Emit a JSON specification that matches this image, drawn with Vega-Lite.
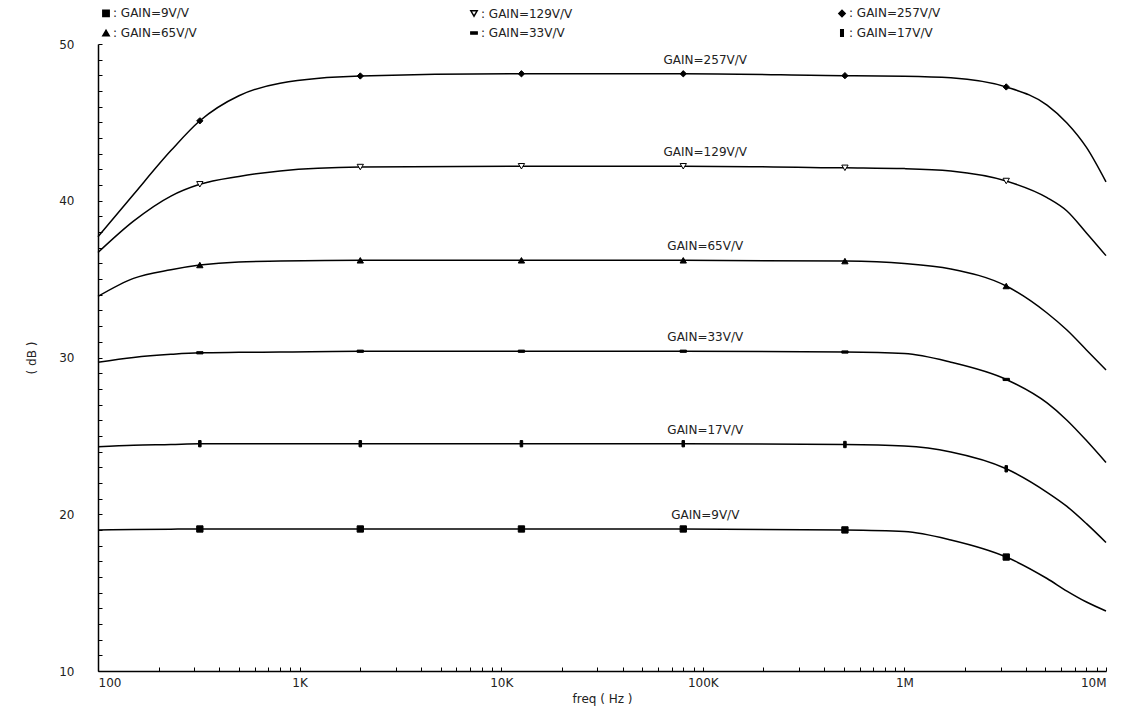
{
  "$schema": "https://vega.github.io/schema/vega-lite/v6.json",
  "width": 1008,
  "height": 627,
  "autosize": {"type": "none"},
  "padding": {"left": 98, "top": 44, "right": 26, "bottom": 38},
  "background": "white",
  "config": {
    "view": {"stroke": null},
    "font": "DejaVu Sans",
    "axis": {"domainColor": "black", "tickColor": "black", "labelColor": "#222", "titleColor": "#222", "labelFont": "DejaVu Sans", "titleFont": "DejaVu Sans", "labelFontSize": 12, "titleFontSize": 12, "titleFontWeight": "normal", "grid": false, "domainWidth": 1.5, "tickWidth": 1}
  },
  "datasets": {
    "curves": [
      {"series": "GAIN=257V/V", "f": 100, "db": 37.7, "m": false},
      {"series": "GAIN=257V/V", "f": 150, "db": 40.4, "m": false},
      {"series": "GAIN=257V/V", "f": 230, "db": 43.2, "m": false},
      {"series": "GAIN=257V/V", "f": 320, "db": 45.1, "m": true},
      {"series": "GAIN=257V/V", "f": 500, "db": 46.7, "m": false},
      {"series": "GAIN=257V/V", "f": 800, "db": 47.5, "m": false},
      {"series": "GAIN=257V/V", "f": 2000, "db": 47.96, "m": true},
      {"series": "GAIN=257V/V", "f": 12600, "db": 48.1, "m": true},
      {"series": "GAIN=257V/V", "f": 80000, "db": 48.1, "m": true},
      {"series": "GAIN=257V/V", "f": 507000, "db": 47.98, "m": true},
      {"series": "GAIN=257V/V", "f": 1000000, "db": 47.95, "m": false},
      {"series": "GAIN=257V/V", "f": 1700000, "db": 47.85, "m": false},
      {"series": "GAIN=257V/V", "f": 3200000, "db": 47.26, "m": true},
      {"series": "GAIN=257V/V", "f": 5100000, "db": 46.1, "m": false},
      {"series": "GAIN=257V/V", "f": 6400000, "db": 44.96, "m": false},
      {"series": "GAIN=257V/V", "f": 8000000, "db": 43.4, "m": false},
      {"series": "GAIN=257V/V", "f": 10000000, "db": 41.2, "m": false},

      {"series": "GAIN=129V/V", "f": 100, "db": 36.7, "m": false},
      {"series": "GAIN=129V/V", "f": 150, "db": 38.7, "m": false},
      {"series": "GAIN=129V/V", "f": 230, "db": 40.3, "m": false},
      {"series": "GAIN=129V/V", "f": 320, "db": 41.05, "m": true},
      {"series": "GAIN=129V/V", "f": 500, "db": 41.55, "m": false},
      {"series": "GAIN=129V/V", "f": 800, "db": 41.9, "m": false},
      {"series": "GAIN=129V/V", "f": 2000, "db": 42.15, "m": true},
      {"series": "GAIN=129V/V", "f": 12600, "db": 42.2, "m": true},
      {"series": "GAIN=129V/V", "f": 80000, "db": 42.2, "m": true},
      {"series": "GAIN=129V/V", "f": 507000, "db": 42.1, "m": true},
      {"series": "GAIN=129V/V", "f": 1000000, "db": 42.05, "m": false},
      {"series": "GAIN=129V/V", "f": 1700000, "db": 41.9, "m": false},
      {"series": "GAIN=129V/V", "f": 3200000, "db": 41.26, "m": true},
      {"series": "GAIN=129V/V", "f": 5100000, "db": 40.2, "m": false},
      {"series": "GAIN=129V/V", "f": 6400000, "db": 39.35, "m": false},
      {"series": "GAIN=129V/V", "f": 8000000, "db": 37.95, "m": false},
      {"series": "GAIN=129V/V", "f": 10000000, "db": 36.5, "m": false},

      {"series": "GAIN=65V/V", "f": 100, "db": 33.9, "m": false},
      {"series": "GAIN=65V/V", "f": 150, "db": 35.05, "m": false},
      {"series": "GAIN=65V/V", "f": 230, "db": 35.6, "m": false},
      {"series": "GAIN=65V/V", "f": 320, "db": 35.9, "m": true},
      {"series": "GAIN=65V/V", "f": 500, "db": 36.1, "m": false},
      {"series": "GAIN=65V/V", "f": 800, "db": 36.15, "m": false},
      {"series": "GAIN=65V/V", "f": 2000, "db": 36.2, "m": true},
      {"series": "GAIN=65V/V", "f": 12600, "db": 36.2, "m": true},
      {"series": "GAIN=65V/V", "f": 80000, "db": 36.2, "m": true},
      {"series": "GAIN=65V/V", "f": 507000, "db": 36.15, "m": true},
      {"series": "GAIN=65V/V", "f": 1000000, "db": 36.0, "m": false},
      {"series": "GAIN=65V/V", "f": 1700000, "db": 35.65, "m": false},
      {"series": "GAIN=65V/V", "f": 3200000, "db": 34.56, "m": true},
      {"series": "GAIN=65V/V", "f": 5100000, "db": 32.84, "m": false},
      {"series": "GAIN=65V/V", "f": 6400000, "db": 31.75, "m": false},
      {"series": "GAIN=65V/V", "f": 8000000, "db": 30.48, "m": false},
      {"series": "GAIN=65V/V", "f": 10000000, "db": 29.2, "m": false},

      {"series": "GAIN=33V/V", "f": 100, "db": 29.7, "m": false},
      {"series": "GAIN=33V/V", "f": 150, "db": 30.0, "m": false},
      {"series": "GAIN=33V/V", "f": 230, "db": 30.2, "m": false},
      {"series": "GAIN=33V/V", "f": 320, "db": 30.3, "m": true},
      {"series": "GAIN=33V/V", "f": 500, "db": 30.33, "m": false},
      {"series": "GAIN=33V/V", "f": 800, "db": 30.35, "m": false},
      {"series": "GAIN=33V/V", "f": 2000, "db": 30.4, "m": true},
      {"series": "GAIN=33V/V", "f": 12600, "db": 30.4, "m": true},
      {"series": "GAIN=33V/V", "f": 80000, "db": 30.4, "m": true},
      {"series": "GAIN=33V/V", "f": 507000, "db": 30.35, "m": true},
      {"series": "GAIN=33V/V", "f": 1000000, "db": 30.25, "m": false},
      {"series": "GAIN=33V/V", "f": 1700000, "db": 29.7, "m": false},
      {"series": "GAIN=33V/V", "f": 3200000, "db": 28.6, "m": true},
      {"series": "GAIN=33V/V", "f": 5100000, "db": 27.1, "m": false},
      {"series": "GAIN=33V/V", "f": 6400000, "db": 26.0, "m": false},
      {"series": "GAIN=33V/V", "f": 8000000, "db": 24.7, "m": false},
      {"series": "GAIN=33V/V", "f": 10000000, "db": 23.3, "m": false},

      {"series": "GAIN=17V/V", "f": 100, "db": 24.3, "m": false},
      {"series": "GAIN=17V/V", "f": 150, "db": 24.4, "m": false},
      {"series": "GAIN=17V/V", "f": 230, "db": 24.45, "m": false},
      {"series": "GAIN=17V/V", "f": 320, "db": 24.5, "m": true},
      {"series": "GAIN=17V/V", "f": 500, "db": 24.5, "m": false},
      {"series": "GAIN=17V/V", "f": 800, "db": 24.5, "m": false},
      {"series": "GAIN=17V/V", "f": 2000, "db": 24.5, "m": true},
      {"series": "GAIN=17V/V", "f": 12600, "db": 24.5, "m": true},
      {"series": "GAIN=17V/V", "f": 80000, "db": 24.5, "m": true},
      {"series": "GAIN=17V/V", "f": 507000, "db": 24.45, "m": true},
      {"series": "GAIN=17V/V", "f": 1000000, "db": 24.35, "m": false},
      {"series": "GAIN=17V/V", "f": 1700000, "db": 23.97, "m": false},
      {"series": "GAIN=17V/V", "f": 3200000, "db": 22.9, "m": true},
      {"series": "GAIN=17V/V", "f": 5100000, "db": 21.4, "m": false},
      {"series": "GAIN=17V/V", "f": 6400000, "db": 20.5, "m": false},
      {"series": "GAIN=17V/V", "f": 8000000, "db": 19.4, "m": false},
      {"series": "GAIN=17V/V", "f": 10000000, "db": 18.2, "m": false},

      {"series": "GAIN=9V/V", "f": 100, "db": 19.0, "m": false},
      {"series": "GAIN=9V/V", "f": 150, "db": 19.03, "m": false},
      {"series": "GAIN=9V/V", "f": 230, "db": 19.05, "m": false},
      {"series": "GAIN=9V/V", "f": 320, "db": 19.06, "m": true},
      {"series": "GAIN=9V/V", "f": 500, "db": 19.06, "m": false},
      {"series": "GAIN=9V/V", "f": 800, "db": 19.06, "m": false},
      {"series": "GAIN=9V/V", "f": 2000, "db": 19.06, "m": true},
      {"series": "GAIN=9V/V", "f": 12600, "db": 19.06, "m": true},
      {"series": "GAIN=9V/V", "f": 80000, "db": 19.06, "m": true},
      {"series": "GAIN=9V/V", "f": 507000, "db": 19.0, "m": true},
      {"series": "GAIN=9V/V", "f": 1000000, "db": 18.9, "m": false},
      {"series": "GAIN=9V/V", "f": 1700000, "db": 18.36, "m": false},
      {"series": "GAIN=9V/V", "f": 3200000, "db": 17.27, "m": true},
      {"series": "GAIN=9V/V", "f": 5100000, "db": 15.9, "m": false},
      {"series": "GAIN=9V/V", "f": 6400000, "db": 15.1, "m": false},
      {"series": "GAIN=9V/V", "f": 8000000, "db": 14.4, "m": false},
      {"series": "GAIN=9V/V", "f": 10000000, "db": 13.83, "m": false}
    ]
  },
  "data": {"name": "curves"},
  "encoding": {
    "x": {
      "field": "f", "type": "quantitative",
      "scale": {"type": "log", "domain": [100, 10000000], "nice": false},
      "axis": {
        "title": "freq ( Hz )",
        "values": [100,200,300,400,500,600,700,800,900,1000,2000,3000,4000,5000,6000,7000,8000,9000,10000,20000,30000,40000,50000,60000,70000,80000,90000,100000,200000,300000,400000,500000,600000,700000,800000,900000,1000000,2000000,3000000,4000000,5000000,6000000,7000000,8000000,9000000,10000000],
        "labelExpr": "datum.value == 100 ? '100' : datum.value == 1000 ? '1K' : datum.value == 10000 ? '10K' : datum.value == 100000 ? '100K' : datum.value == 1000000 ? '1M' : datum.value == 10000000 ? '10M' : ''",
        "tickSize": -4,
        "labelPadding": 10,
        "labelOverlap": false,
        "titlePadding": 5
      }
    },
    "y": {
      "field": "db", "type": "quantitative",
      "scale": {"domain": [10, 50], "nice": false, "zero": false},
      "axis": {
        "title": "( dB )",
        "values": [10,11,12,13,14,15,16,17,18,19,20,21,22,23,24,25,26,27,28,29,30,31,32,33,34,35,36,37,38,39,40,41,42,43,44,45,46,47,48,49,50],
        "labelExpr": "datum.value % 10 == 0 ? datum.label : ''",
        "tickSize": -4,
        "labelPadding": 28,
        "labelOverlap": false,
        "titlePadding": 20
      }
    }
  },
  "layer": [
    {
      "mark": {"type": "line", "color": "black", "strokeWidth": 1.5, "interpolate": "monotone"},
      "encoding": {"detail": {"field": "series"}}
    },
    {
      "transform": [{"filter": "datum.m"}],
      "mark": {"type": "point", "filled": true, "strokeWidth": 1, "size": 40, "opacity": 1},
      "encoding": {
        "stroke": {"value": "black"},
        "shape": {
          "field": "series", "type": "nominal",
          "scale": {
            "domain": ["GAIN=9V/V", "GAIN=129V/V", "GAIN=257V/V", "GAIN=65V/V", "GAIN=33V/V", "GAIN=17V/V"],
            "range": ["square", "triangle-down", "diamond", "triangle-up", "M-1,-0.35L1,-0.35L1,0.35L-1,0.35Z", "M-0.4,-1L0.4,-1L0.4,1L-0.4,1Z"]
          },
          "legend": {
            "title": null,
            "orient": "none",
            "legendX": 2,
            "legendY": -37,
            "direction": "horizontal",
            "columns": 3,
            "gridAlign": "all",
            "columnPadding": 255,
            "rowPadding": 6,
            "symbolSize": 40,
            "symbolOffset": 0,
            "labelFont": "DejaVu Sans",
            "labelFontSize": 12,
            "labelColor": "#222",
            "labelOffset": 1,
            "labelExpr": "':   ' + datum.label",
            "encode": {"symbols": {"update": {"stroke": {"value": "black"}, "strokeWidth": {"value": 1}}}}
          }
        },
        "fill": {
          "field": "series", "type": "nominal",
          "scale": {
            "domain": ["GAIN=9V/V", "GAIN=129V/V", "GAIN=257V/V", "GAIN=65V/V", "GAIN=33V/V", "GAIN=17V/V"],
            "range": ["black", "white", "black", "black", "black", "black"]
          },
          "legend": {
            "title": null,
            "orient": "none",
            "legendX": 2,
            "legendY": -37,
            "direction": "horizontal",
            "columns": 3,
            "gridAlign": "all",
            "columnPadding": 255,
            "rowPadding": 6,
            "symbolSize": 40,
            "symbolOffset": 0,
            "labelFont": "DejaVu Sans",
            "labelFontSize": 12,
            "labelColor": "#222",
            "labelOffset": 1,
            "labelExpr": "':   ' + datum.label",
            "encode": {"symbols": {"update": {"stroke": {"value": "black"}, "strokeWidth": {"value": 1}}}}
          }
        }
      }
    },
    {
      "transform": [{"filter": "datum.f == 80000"}],
      "mark": {"type": "text", "align": "center", "baseline": "bottom", "dx": 22, "dy": -7, "font": "DejaVu Sans", "fontSize": 12, "color": "#222"},
      "encoding": {"text": {"field": "series"}}
    }
  ]
}
